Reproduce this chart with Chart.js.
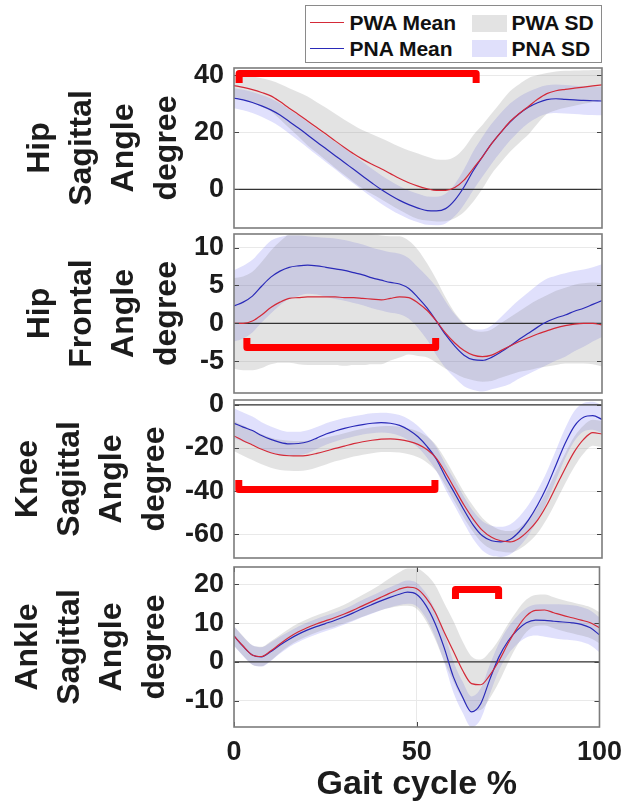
<!DOCTYPE html>
<html>
<head>
<meta charset="utf-8">
<script src="https://cdn.jsdelivr.net/npm/chart.js@4.4.1/dist/chart.umd.min.js"></script>
<style>
  body { margin: 0; background: #fff; width: 631px; height: 805px; position: relative; overflow: hidden; font-family: "Liberation Sans", Arial, sans-serif; }
  canvas.panel { position: absolute; left: 0; }
  #legend { position: absolute; left: 305px; top: 5px; width: 297px; height: 58px; box-sizing: border-box; border: 1.5px solid #8a8a8a; background: #fff; }
  #legend .ln { position: absolute; left: 3.5px; width: 34px; height: 0; border-top: 1.3px solid; }
  #legend .patch { position: absolute; left: 165.5px; width: 35px; height: 17px; }
  #legend .txt { position: absolute; font: bold 21px "Liberation Sans", Arial, sans-serif; color: #111; line-height: 24px; white-space: nowrap; }
</style>
</head>
<body>

<script>
// gait cycle sampling (% of cycle)
const gaitX = [0, 2.5, 5, 7.5, 10, 12.5, 15, 17.5, 20, 22.5, 25, 27.5, 30, 32.5, 35, 37.5, 40, 42.5, 45, 47.5,
  50, 52.5, 55, 57.5, 60, 62.5, 65, 67.5, 70, 72.5, 75, 77.5, 80, 82.5, 85, 87.5, 90, 92.5, 95, 97.5, 100];
const xTicks = [0, 50, 100];

// Hip sagittal
const hipSagPWA = [36.4, 35.8, 35.0, 34.0, 32.8, 30.8, 28.5, 26.3, 24.0, 21.7, 19.4, 17.0, 14.7, 12.5, 10.5, 8.8, 7.2, 5.5, 3.8, 2.3,
  1.1, 0.2, -0.4, -0.4, 0.6, 3.2, 7.3, 11.4, 16.0, 20.0, 23.8, 26.6, 29.1, 31.6, 33.6, 34.6, 35.1, 35.5, 35.9, 36.3, 36.7];
const hipSagPNA = [32.0, 31.4, 30.5, 29.3, 27.9, 26.1, 23.8, 21.5, 19.1, 16.6, 14.2, 11.8, 9.4, 7.0, 4.6, 2.2, -0.1, -2.1, -3.9, -5.4,
  -6.6, -7.5, -7.6, -6.8, -3.8, 0.8, 6.5, 11.4, 16.0, 20.0, 23.6, 26.5, 28.8, 30.4, 31.5, 31.8, 31.6, 31.4, 31.2, 31.1, 31.0];
const hipSagPWAsd = [3.8, 4.2, 4.6, 5.0, 5.4, 6.2, 7.0, 7.8, 8.6, 8.9, 9.2, 9.5, 9.7, 10.0, 10.2, 10.5, 10.7, 10.9, 11.1, 11.3,
  11.5, 11.2, 10.9, 10.8, 10.8, 11.2, 11.7, 11.2, 10.6, 10.6, 10.6, 10.3, 9.9, 8.5, 7.2, 6.8, 6.5, 6.2, 5.9, 5.6, 5.3];
const hipSagPNAsd = [3.5, 3.6, 3.7, 3.8, 4.0, 4.1, 4.2, 4.4, 4.5, 4.6, 4.7, 4.8, 5.0, 5.0, 5.0, 5.0, 5.0, 5.0, 5.0, 5.0,
  5.0, 5.0, 5.0, 5.2, 5.6, 6.2, 6.8, 7.0, 7.0, 6.8, 6.5, 6.0, 5.5, 5.2, 5.0, 5.0, 5.0, 5.0, 5.0, 5.0, 5.0];

// Hip frontal
const hipFroPWA = [0.0, 0.0, 0.3, 1.1, 2.1, 2.8, 3.3, 3.4, 3.5, 3.5, 3.5, 3.5, 3.4, 3.4, 3.3, 3.2, 3.1, 3.3, 3.5, 3.4,
  2.7, 1.7, 0.3, -1.3, -2.6, -3.6, -4.2, -4.4, -4.2, -3.6, -3.0, -2.4, -1.9, -1.4, -1.0, -0.6, -0.3, -0.1, 0.0, 0.0, -0.2];
const hipFroPNA = [2.3, 2.8, 3.6, 4.9, 6.1, 6.9, 7.4, 7.6, 7.7, 7.6, 7.4, 7.2, 7.0, 6.7, 6.4, 6.0, 5.7, 5.4, 5.2, 4.6,
  3.4, 2.0, 0.3, -1.5, -3.0, -4.2, -4.8, -4.9, -4.5, -3.8, -3.0, -2.1, -1.3, -0.5, 0.2, 0.7, 1.1, 1.6, 2.0, 2.5, 3.0];
const hipFroPWAsd = [6.0, 6.2, 6.5, 7.0, 7.5, 8.0, 8.5, 8.8, 9.0, 9.0, 9.0, 9.0, 9.0, 8.9, 8.8, 8.6, 8.5, 8.2, 8.0, 7.5,
  7.0, 6.2, 5.5, 4.7, 4.0, 3.6, 3.3, 3.3, 3.4, 3.6, 3.8, 4.0, 4.3, 4.5, 4.7, 4.9, 5.0, 5.2, 5.3, 5.4, 5.5];
const hipFroPNAsd = [4.7, 4.8, 4.8, 4.8, 4.8, 4.5, 4.2, 4.0, 3.8, 3.8, 3.9, 4.0, 4.0, 4.0, 4.0, 4.0, 4.0, 4.0, 4.0, 4.0,
  4.0, 4.2, 4.5, 4.4, 4.2, 4.1, 4.0, 4.1, 4.2, 4.6, 5.0, 5.2, 5.4, 5.6, 5.7, 5.6, 5.5, 5.3, 5.1, 4.9, 4.8];

// Knee sagittal
const kneeSagPWA = [-14.4, -16.6, -18.6, -20.6, -22.2, -23.2, -23.6, -23.7, -23.4, -22.5, -21.4, -20.2, -19.1, -18.0, -17.1, -16.4, -15.9, -15.8, -16.1, -16.9,
  -18.3, -20.8, -24.8, -31.5, -39.0, -46.5, -53.0, -58.3, -61.5, -63.1, -63.6, -62.0, -58.4, -53.5, -46.5, -38.0, -29.5, -21.7, -16.0, -12.9, -13.5];
const kneeSagPNA = [-8.5, -10.3, -11.9, -14.2, -16.0, -17.4, -18.1, -17.9, -17.1, -15.4, -13.5, -12.1, -10.9, -9.9, -9.1, -8.5, -8.2, -8.5, -9.5, -11.6,
  -14.8, -19.4, -25.2, -33.6, -41.1, -48.8, -55.8, -60.8, -63.1, -63.6, -62.5, -58.9, -53.5, -46.5, -38.0, -27.9, -17.8, -9.8, -5.7, -5.0, -6.7];
const kneeSagPWAsd = [7.0, 7.0, 7.0, 7.0, 7.0, 7.0, 7.0, 7.0, 6.8, 6.5, 6.3, 6.0, 6.0, 6.0, 6.0, 6.0, 6.0, 6.0, 6.0, 6.0,
  6.0, 6.0, 6.0, 6.0, 6.0, 6.0, 6.0, 5.8, 5.5, 5.0, 5.0, 5.0, 5.5, 6.0, 6.5, 7.0, 7.0, 7.0, 6.5, 6.0, 6.0];
const kneeSagPNAsd = [7.0, 6.8, 6.5, 6.2, 6.0, 5.8, 5.6, 5.4, 5.3, 5.1, 5.0, 4.9, 4.8, 4.7, 4.6, 4.6, 4.6, 4.7, 4.8, 4.9,
  5.0, 5.2, 5.5, 5.8, 6.0, 6.2, 6.5, 6.8, 7.0, 7.0, 7.0, 7.0, 7.0, 7.0, 7.0, 7.0, 7.0, 7.0, 6.6, 6.5, 6.5];

// Ankle sagittal
const ankleSagPWA = [6.7, 4.1, 1.8, 1.4, 2.8, 4.6, 6.3, 7.7, 8.8, 9.8, 10.6, 11.4, 12.3, 13.3, 14.4, 15.5, 16.6, 17.7, 18.7, 19.3,
  18.9, 16.6, 12.9, 7.7, 2.8, -2.1, -5.6, -5.9, -3.4, 0.3, 4.8, 8.8, 11.9, 13.3, 13.4, 12.7, 12.0, 11.4, 10.8, 10.1, 8.8];
const ankleSagPNA = [6.7, 4.0, 1.8, 1.3, 2.6, 4.3, 5.8, 7.1, 8.2, 9.1, 9.9, 10.7, 11.6, 12.6, 13.7, 14.7, 15.7, 16.6, 17.4, 18.0,
  17.4, 14.6, 10.0, 3.7, -3.8, -9.0, -12.9, -10.8, -4.5, 1.3, 5.4, 8.2, 10.1, 10.8, 10.7, 10.5, 10.3, 10.1, 9.7, 8.8, 7.0];
const ankleSagPWAsd = [2.5, 2.5, 2.5, 2.5, 2.5, 2.3, 2.2, 2.2, 2.2, 2.2, 2.2, 2.3, 2.4, 2.6, 2.8, 3.0, 3.3, 3.8, 4.3, 4.8,
  5.2, 6.0, 7.0, 7.5, 7.8, 7.5, 7.0, 6.5, 6.0, 5.5, 5.0, 4.5, 4.2, 4.0, 4.0, 4.0, 4.0, 4.0, 4.0, 4.0, 4.0];
const ankleSagPNAsd = [2.5, 2.5, 2.5, 2.5, 2.4, 2.2, 2.0, 2.0, 2.0, 2.0, 2.0, 2.0, 2.0, 2.1, 2.2, 2.3, 2.4, 2.6, 2.8, 3.0,
  3.0, 3.2, 3.5, 3.8, 4.0, 4.0, 4.0, 4.0, 3.8, 3.5, 3.5, 3.6, 3.8, 4.0, 4.2, 4.4, 4.5, 4.5, 4.5, 4.5, 4.5];

// axes per panel
const yTitles = [['Hip', 'Sagittal', 'Angle', 'degree'], ['Hip', 'Frontal', 'Angle', 'degree'],
  ['Knee', 'Sagittal', 'Angle', 'degree'], ['Ankle', 'Sagittal', 'Angle', 'degree']];
const yTicks = [[0, 20, 40], [-5, 0, 5, 10], [-60, -40, -20, 0], [-10, 0, 10, 20]];
const yMin = [-13.6, -9.2, -71.1, -16.8];
const yMax = [42.6, 11.8, 2.3, 24.5];

// significant-difference brackets (gait %, angle level)
const sigStart = [1.4, 3.5, 1.3, 60.6];
const sigEnd = [65.8, 54.8, 54.6, 72.4];
const sigLevel = [40.7, -3.2, -39.3, 18.7];
const xTitle = 'Gait cycle %';

const panels = [
  { pwa: hipSagPWA, pna: hipSagPNA, pwaSd: hipSagPWAsd, pnaSd: hipSagPNAsd },
  { pwa: hipFroPWA, pna: hipFroPNA, pwaSd: hipFroPWAsd, pnaSd: hipFroPNAsd },
  { pwa: kneeSagPWA, pna: kneeSagPNA, pwaSd: kneeSagPWAsd, pnaSd: kneeSagPNAsd },
  { pwa: ankleSagPWA, pna: ankleSagPNA, pwaSd: ankleSagPWAsd, pnaSd: ankleSagPNAsd }
];

// layout (pixels)
const areaTop = [68, 234, 400, 567];
const areaBottom = [228, 393, 558, 727];
const titlePad = [19, 19, 7, 7];
const legDir = [1, -1, -1, 1];   // bracket legs down (1) or up (-1)
const AXIS_W = 234, PAD = 30, RIGHT_PAD = 29, XAXIS_H = 78;

const PWA_COLOR = '#d42a38', PNA_COLOR = '#2a2ab8';
const PWA_FILL = 'rgba(128,128,128,0.22)', PNA_FILL = 'rgba(100,100,240,0.2)';
const GRID = '#e9e9e9', TEXT = '#1c1c1c';

Chart.defaults.font.family = '"Liberation Sans", Arial, sans-serif';

const framePlugin = {
  id: 'frame',
  afterDraw(chart, args, opts) {
    const { ctx, chartArea: a, scales: { x, y } } = chart;
    ctx.save();
    // tick marks inside the box
    ctx.strokeStyle = '#444';
    ctx.lineWidth = 1;
    ctx.beginPath();
    y.ticks.forEach(t => {
      const py = Math.round(y.getPixelForValue(t.value)) + 0.5;
      ctx.moveTo(a.left, py); ctx.lineTo(a.left + 5, py);
      ctx.moveTo(a.right, py); ctx.lineTo(a.right - 5, py);
    });
    if (opts.xTicks) {
      x.ticks.forEach(t => {
        const px = Math.round(x.getPixelForValue(t.value)) + 0.5;
        ctx.moveTo(px, a.top); ctx.lineTo(px, a.top + 5);
        ctx.moveTo(px, a.bottom); ctx.lineTo(px, a.bottom - 5);
      });
    }
    ctx.stroke();
    // box
    ctx.strokeStyle = '#7c7c7c';
    ctx.lineWidth = 1.6;
    ctx.strokeRect(a.left, a.top, a.right - a.left, a.bottom - a.top);
    // significance bracket
    const x0 = x.getPixelForValue(opts.sigStart);
    const x1 = x.getPixelForValue(opts.sigEnd);
    const yb = y.getPixelForValue(opts.sigLevel);
    const leg = 9.5 * opts.legDir;
    ctx.strokeStyle = '#ff0000';
    ctx.lineWidth = 7;
    ctx.lineJoin = 'round';
    ctx.lineCap = 'butt';
    ctx.beginPath();
    ctx.moveTo(x0, yb + leg);
    ctx.lineTo(x0, yb);
    ctx.lineTo(x1, yb);
    ctx.lineTo(x1, yb + leg);
    ctx.stroke();
    ctx.restore();
  }
};

function pts(arr) {
  return gaitX.map((x, k) => ({ x, y: arr[k] }));
}
function band(mean, sd, sign) {
  return gaitX.map((x, k) => ({ x, y: mean[k] + sign * sd[k] }));
}

function drawPanel(i) {
  const p = panels[i];
  const last = i === panels.length - 1;
  const canvas = document.createElement('canvas');
  canvas.className = 'panel';
  const top = areaTop[i] - PAD;
  const bottom = last ? 805 : areaBottom[i] + PAD;
  canvas.width = 631;
  canvas.height = bottom - top;
  canvas.style.top = top + 'px';
  document.body.appendChild(canvas);

  const noLine = { borderWidth: 0, borderColor: 'rgba(0,0,0,0)', pointRadius: 0 };

  new Chart(canvas, {
    type: 'line',
    data: {
      datasets: [
        { label: 'PWA SD', data: band(p.pwa, p.pwaSd, 1), fill: '+1', backgroundColor: PWA_FILL, order: 10, ...noLine },
        { label: 'PWA SD low', data: band(p.pwa, p.pwaSd, -1), fill: false, order: 10, ...noLine },
        { label: 'PNA SD', data: band(p.pna, p.pnaSd, 1), fill: '+1', backgroundColor: PNA_FILL, order: 10, ...noLine },
        { label: 'PNA SD low', data: band(p.pna, p.pnaSd, -1), fill: false, order: 10, ...noLine },
        { label: 'zero', data: [{ x: 0, y: 0 }, { x: 100, y: 0 }], borderColor: '#333', borderWidth: 1.3, pointRadius: 0, fill: false, order: 5 },
        { label: 'PNA Mean', data: pts(p.pna), borderColor: PNA_COLOR, borderWidth: 1.2, pointRadius: 0, fill: false, order: 1 },
        { label: 'PWA Mean', data: pts(p.pwa), borderColor: PWA_COLOR, borderWidth: 1.2, pointRadius: 0, fill: false, order: 0 }
      ]
    },
    options: {
      responsive: false,
      animation: false,
      devicePixelRatio: 1,
      events: [],
      layout: { padding: { top: PAD, bottom: last ? 0 : PAD, left: 0, right: RIGHT_PAD } },
      elements: { line: { cubicInterpolationMode: 'monotone' } },
      plugins: {
        legend: { display: false },
        tooltip: { enabled: false },
        frame: { sigStart: sigStart[i], sigEnd: sigEnd[i], sigLevel: sigLevel[i], legDir: legDir[i], xTicks: last }
      },
      scales: {
        x: last ? {
          type: 'linear', min: 0, max: 100,
          afterBuildTicks: s => { s.ticks = xTicks.map(v => ({ value: v })); },
          afterFit: s => { s.height = XAXIS_H; },
          grid: { color: GRID, drawTicks: false },
          border: { display: false },
          ticks: { padding: 9, color: TEXT, maxRotation: 0, font: { size: 27, weight: 'bold' } },
          title: { display: true, text: xTitle, color: TEXT, font: { size: 34, weight: 'bold' }, padding: { top: 0, bottom: 0 } }
        } : { type: 'linear', min: 0, max: 100, display: false },
        y: {
          min: yMin[i], max: yMax[i],
          afterBuildTicks: s => { s.ticks = yTicks[i].map(v => ({ value: v })); },
          afterFit: s => { s.width = AXIS_W; },
          grid: { color: GRID, drawTicks: false },
          border: { display: false },
          ticks: { padding: 10, color: TEXT, font: { size: 27, weight: 'bold' } },
          title: {
            display: true, text: yTitles[i], color: TEXT,
            font: { size: 32, weight: 'bold', lineHeight: 1.32 },
            padding: { top: titlePad[i], bottom: 0 }
          }
        }
      }
    },
    plugins: [framePlugin]
  });
}

panels.forEach((p, i) => drawPanel(i));
</script>

<div id="legend">
  <div class="ln" style="top:15.5px;border-color:#d42a38"></div>
  <div class="txt" style="left:43.5px;top:5px">PWA Mean</div>
  <div class="patch" style="top:8.5px;background:#e3e3e3"></div>
  <div class="txt" style="left:205.5px;top:5px">PWA SD</div>
  <div class="ln" style="top:41.8px;border-color:#2a2ab8"></div>
  <div class="txt" style="left:43.5px;top:31px">PNA Mean</div>
  <div class="patch" style="top:33.5px;background:#e0e0fb"></div>
  <div class="txt" style="left:205.5px;top:31px">PNA SD</div>
</div>

</body>
</html>
